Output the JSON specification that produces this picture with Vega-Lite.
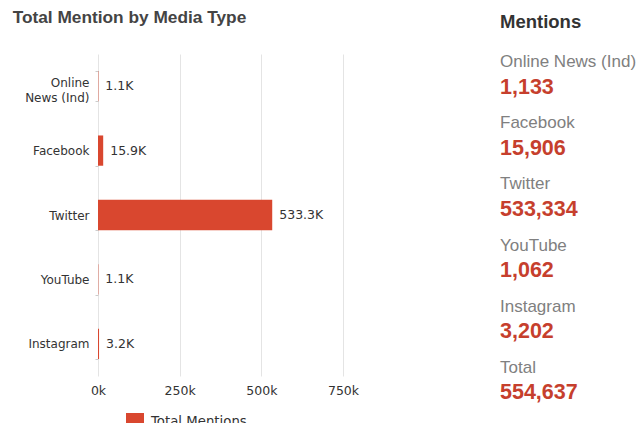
{
  "$schema": "https://vega.github.io/schema/vega-lite/v6.json",
  "padding": {"left": 12, "top": 8, "right": 0, "bottom": 0},
  "background": "white",
  "config": {"view": {"stroke": null}},
  "datasets": {
    "mentions": [
      {"media": "Online News (Ind)", "value": 1133, "label": "1.1K"},
      {"media": "Facebook", "value": 15906, "label": "15.9K"},
      {"media": "Twitter", "value": 533334, "label": "533.3K"},
      {"media": "YouTube", "value": 1062, "label": "1.1K"},
      {"media": "Instagram", "value": 3202, "label": "3.2K"},
      {"media": "Total", "value": 554637, "label": "554.6K"}
    ]
  },
  "spacing": 141,
  "resolve": {"scale": {"x": "independent", "y": "independent", "color": "independent"}},
  "hconcat": [
    {
      "title": {"text": "Total Mention by Media Type", "anchor": "start", "frame": "bounds", "dx": -12, "font": "Liberation Sans", "fontSize": 17.3, "fontWeight": "bold", "color": "#444444", "offset": 22},
      "width": 245,
      "height": 322,
      "data": {"name": "mentions"},
      "transform": [{"filter": "datum.media != 'Total'"}],
      "encoding": {
        "y": {
          "field": "media", "type": "nominal", "sort": null,
          "scale": {"paddingInner": 0.53, "paddingOuter": 0.265},
          "axis": {
            "title": null, "domain": false, "tickBand": "extent", "tickSize": 3, "tickColor": "#cccccc",
            "labelFont": "DejaVu Sans", "labelFontSize": 12, "labelColor": "#333333", "labelPadding": 6,
            "labelExpr": "datum.label == 'Online News (Ind)' ? ['Online', 'News (Ind)'] : datum.label",
            "labelLineHeight": 15,
            "labelOffset": {"condition": {"test": "datum.value == 'Online News (Ind)'", "value": -4}, "value": 0}
          }
        }
      },
      "layer": [
        {
          "mark": {"type": "bar", "color": "#d9472f"},
          "encoding": {
            "x": {
              "field": "value", "type": "quantitative",
              "scale": {"domain": [0, 750000], "nice": false},
              "axis": {
                "title": null, "values": [0, 250000, 500000, 750000], "domain": false, "ticks": false,
                "grid": true, "gridColor": "#e4e4e4", "labelPadding": 8, "labelFlush": false,
                "labelFont": "DejaVu Sans", "labelFontSize": 12.5, "labelColor": "#333333",
                "labelExpr": "format(datum.value / 1000, 'd') + 'k'"
              }
            },
            "color": {
              "datum": "Total Mentions", "type": "nominal",
              "scale": {"range": ["#d9472f"]},
              "legend": {
                "title": null, "orient": "none", "legendX": 28, "legendY": 359, "padding": 0,
                "symbolType": "square", "symbolSize": 324, "symbolStrokeWidth": 0,
                "labelFont": "DejaVu Sans", "labelFontSize": 13.3, "labelColor": "#333333", "labelOffset": 7
              }
            }
          }
        },
        {
          "mark": {"type": "text", "align": "left", "baseline": "middle", "dx": 7, "font": "DejaVu Sans", "fontSize": 12.5, "color": "#333333"},
          "encoding": {
            "x": {"field": "value", "type": "quantitative"},
            "text": {"field": "label"}
          }
        }
      ]
    },
    {
      "title": {"text": "Mentions", "anchor": "start", "frame": "group", "font": "Liberation Sans", "fontSize": 18.5, "fontWeight": "bold", "color": "#333333", "offset": 22},
      "width": 137,
      "height": 367,
      "data": {"name": "mentions"},
      "encoding": {
        "y": {"field": "media", "type": "nominal", "sort": null, "axis": null},
        "x": {"datum": 0, "type": "quantitative", "scale": {"domain": [0, 1]}, "axis": null}
      },
      "layer": [
        {
          "mark": {"type": "text", "align": "left", "baseline": "middle", "dy": -22.5, "font": "Liberation Sans", "fontSize": 17, "color": "#808080"},
          "encoding": {"text": {"field": "media"}}
        },
        {
          "mark": {"type": "text", "align": "left", "baseline": "middle", "dy": 3, "font": "Liberation Sans", "fontSize": 21.5, "fontWeight": "bold", "color": "#c63f2d"},
          "encoding": {"text": {"field": "value", "type": "quantitative", "format": ",d"}}
        }
      ]
    }
  ]
}
